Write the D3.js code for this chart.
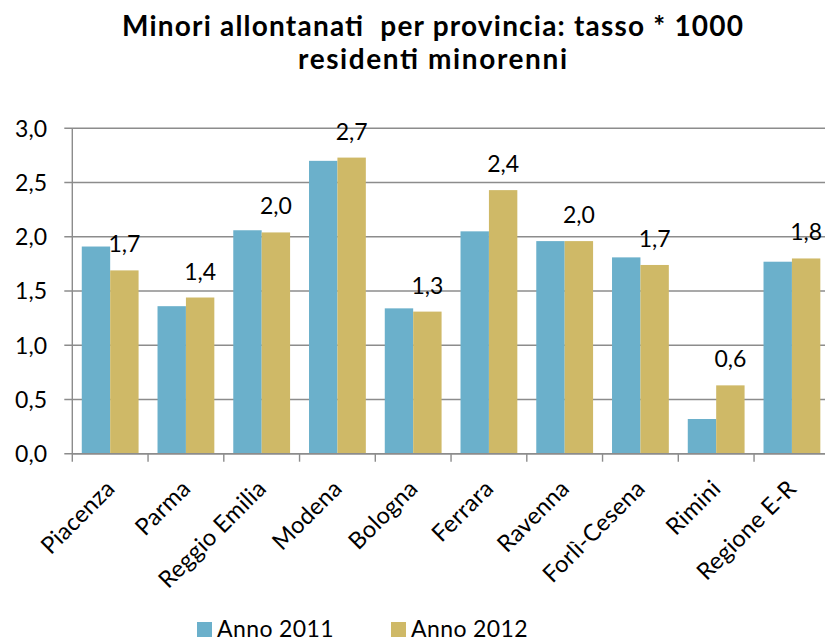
<!DOCTYPE html>
<html>
<head>
<meta charset="utf-8">
<script src="https://cdn.jsdelivr.net/npm/d3@7/dist/d3.min.js"></script>
<style>
  html, body { margin: 0; padding: 0; background: #fff; }
  svg { display: block; font-family: Lato, "Open Sans", sans-serif; }
</style>
</head>
<body>
<svg id="chart" width="825" height="643"></svg>
<script>
'use strict';

/* ── Data ── */
const categories = ['Piacenza', 'Parma', 'Reggio Emilia', 'Modena', 'Bologna',
  'Ferrara', 'Ravenna', 'Forlì-Cesena', 'Rimini', 'Regione E-R'];
const series = ['Anno 2011', 'Anno 2012'];
const anno2011 = [1.91, 1.36, 2.06, 2.70, 1.34, 2.05, 1.96, 1.81, 0.32, 1.77];
const anno2012 = [1.69, 1.44, 2.04, 2.73, 1.31, 2.43, 1.96, 1.74, 0.63, 1.80];
const yTicks = [0, 0.5, 1, 1.5, 2, 2.5, 3];

const colors = ['#6bb0cb', '#cfb967'];
const W = 825, H = 643;
const plotL = 72.3, plotR = 829.8, plotT = 128.3, plotB = 453.7;

const it = d3.formatLocale({ decimal: ',', thousands: '.', grouping: [3], currency: ['€', ''] });
const fmt = it.format('.1f');

const svg = d3.select('#chart');

/* ── Scales ── */
const x = d3.scaleBand().domain(categories).range([plotL, plotR])
  .paddingInner(0.25).paddingOuter(0.125);
const xs = d3.scaleBand().domain(series).range([0, x.bandwidth()]);
const y = d3.scaleLinear().domain([0, 3]).range([plotB, plotT]);

/* ── Title ── */
const title = svg.append('text')
  .attr('text-anchor', 'middle')
  .style('font-weight', 'bold').style('font-size', '28px').attr('fill', '#000');
title.append('tspan').attr('x', 432.5).attr('y', 36)
  .style('white-space', 'pre')
  .attr('textLength', 621).attr('lengthAdjust', 'spacing')
  .text('Minori allontanati  per provincia: tasso * 1000');
title.append('tspan').attr('x', 432.5).attr('y', 69)
  .attr('textLength', 269).attr('lengthAdjust', 'spacing')
  .text('residenti minorenni');

/* ── Grid + y axis ── */
svg.append('g')
  .selectAll('line')
  .data(yTicks)
  .join('line')
  .attr('x1', plotL - 8).attr('x2', W)
  .attr('y1', d => y(d)).attr('y2', d => y(d))
  .attr('stroke', '#8c8c8c').attr('stroke-width', 1.4);

svg.append('g')
  .selectAll('text')
  .data(yTicks)
  .join('text')
  .attr('x', 47).attr('y', d => y(d))
  .attr('dy', '0.36em')
  .attr('text-anchor', 'end')
  .style('font-size', '23px')
  .text(d => fmt(d));

svg.append('line')
  .attr('x1', plotL).attr('x2', plotL).attr('y1', plotT).attr('y2', plotB)
  .attr('stroke', '#8c8c8c').attr('stroke-width', 1.4);

/* ── Bars ── */
const data = categories.map((c, i) => ({ cat: c, values: [anno2011[i], anno2012[i]] }));

const groups = svg.append('g')
  .selectAll('g')
  .data(data)
  .join('g')
  .attr('transform', d => `translate(${x(d.cat)},0)`);

groups.selectAll('rect')
  .data(d => d.values.map((v, k) => ({ s: series[k], v, k })))
  .join('rect')
  .attr('x', d => xs(d.s))
  .attr('width', xs.bandwidth())
  .attr('y', d => y(d.v))
  .attr('height', d => y(0) - y(d.v))
  .attr('fill', d => colors[d.k]);

// data labels on the 2012 series
groups.append('text')
  .attr('x', xs('Anno 2012') + xs.bandwidth() / 2)
  .attr('y', d => y(d.values[1]) - 18)
  .attr('text-anchor', 'middle')
  .style('font-size', '23px')
  .text(d => fmt(d.values[1]));

/* ── x axis ── */
svg.append('line')
  .attr('x1', plotL).attr('x2', W).attr('y1', plotB).attr('y2', plotB)
  .attr('stroke', '#8c8c8c').attr('stroke-width', 1.4);

svg.append('g')
  .selectAll('line')
  .data(d3.range(categories.length + 1))
  .join('line')
  .attr('x1', i => plotL + i * x.step()).attr('x2', i => plotL + i * x.step())
  .attr('y1', plotB).attr('y2', plotB + 8)
  .attr('stroke', '#8c8c8c').attr('stroke-width', 1.4);

svg.append('g')
  .selectAll('text')
  .data(categories)
  .join('text')
  .attr('text-anchor', 'end')
  .attr('transform', d => `translate(${x(d) + x.bandwidth() / 2 + 6},490) rotate(-45)`)
  .style('font-size', '23.5px')
  .style('letter-spacing', '0.3px')
  .text(d => d);

/* ── Legend ── */
const legend = svg.append('g');
const legX = [197, 391];
series.forEach((s, k) => {
  legend.append('rect')
    .attr('x', legX[k]).attr('y', 622).attr('width', 15).attr('height', 15)
    .attr('fill', colors[k]);
  legend.append('text')
    .attr('x', legX[k] + 20).attr('y', 637)
    .style('font-size', '23px')
    .style('letter-spacing', '0.4px')
    .text(s);
});
</script>
</body>
</html>
